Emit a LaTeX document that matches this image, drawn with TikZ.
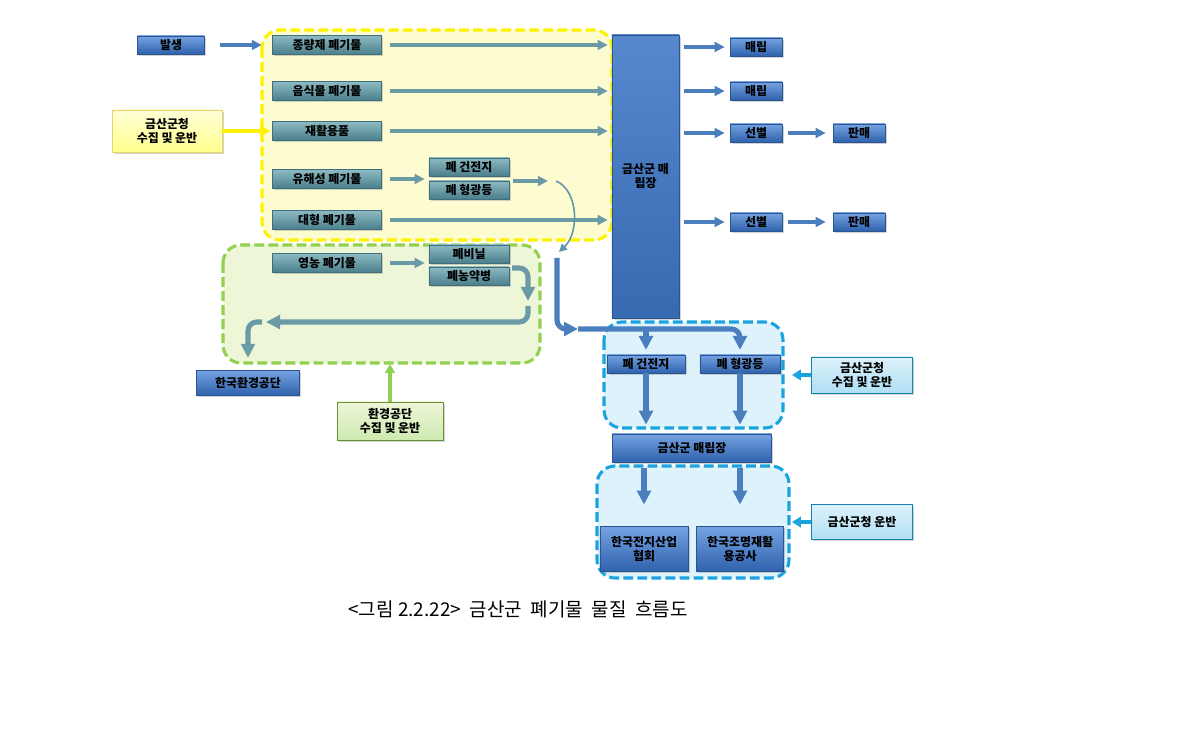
\documentclass[tikz,border=0pt]{standalone}
\usepackage{fontspec}
\setmainfont{Noto Sans CJK KR}
\usepackage{xcolor}
\usepackage{tikz}
\usetikzlibrary{arrows.meta,shadows}

\definecolor{blueMid}{HTML}{3F78C8}
\definecolor{blueTop}{HTML}{75A3E2}
\definecolor{blueBot}{HTML}{2F62AD}
\definecolor{blueEdge}{HTML}{2A5590}
\definecolor{tealTop}{HTML}{8DBAC2}
\definecolor{tealBot}{HTML}{4A7F8C}
\definecolor{tealEdge}{HTML}{3E6F7B}
\definecolor{yelLine}{HTML}{FFF200}
\definecolor{yelFill}{HTML}{FDFCD0}
\definecolor{grnLine}{HTML}{92D050}
\definecolor{grnFill}{HTML}{EEF6D8}
\definecolor{skyLine}{HTML}{1AA3DE}
\definecolor{skyFill}{HTML}{DDF2FB}
\definecolor{arrTeal}{HTML}{6A9AA6}
\definecolor{arrBlue}{HTML}{4A7EBD}

\tikzset{
  box/.style={inner sep=1pt, font=\fontsize{8.5}{10}\selectfont\bfseries, align=center,
    drop shadow={shadow xshift=1.2pt, shadow yshift=-1.2pt, opacity=0.35}},
  bluebox/.style={box, draw=blueEdge, top color=blueTop, bottom color=blueBot,
    minimum width=1.3cm, minimum height=0.45cm},
  tealbox/.style={box, draw=tealEdge, top color=tealTop, bottom color=tealBot,
    minimum width=2.725cm, minimum height=0.475cm},
  tealsmall/.style={tealbox, minimum width=2cm, minimum height=0.45cm},
  yellowbox/.style={box, draw=yellow!50!brown!70, top color=yellow!15, bottom color=yellow!45,
    minimum width=2.75cm, minimum height=1.05cm},
  greenbox/.style={box, draw=grnLine!70!black, top color=grnFill, bottom color=grnLine!45,
    minimum width=2.65cm, minimum height=0.95cm},
  skybox/.style={box, draw=skyLine!80!black, top color=skyFill, bottom color=skyLine!35,
    minimum width=2.525cm, minimum height=0.9cm},
  zone/.style={line width=2.2pt, dash pattern=on 7pt off 3pt, rounded corners=0.45cm},
  yzone/.style={zone, draw=yelLine, fill=yelFill},
  gzone/.style={zone, draw=grnLine, fill=grnFill},
  szone/.style={zone, draw=skyLine, fill=skyFill},
  barrow/.style={draw=arrBlue, line width=2.2pt, -{Triangle[length=0.25cm, width=0.24cm]}},
  tarrow/.style={draw=arrTeal, line width=2.2pt, -{Triangle[length=0.25cm, width=0.24cm]}},
  tbig/.style={draw=arrTeal, line width=3.6pt, rounded corners=0.22cm},
  bbig/.style={draw=arrBlue, line width=3.6pt, rounded corners=0.22cm},
  bigtip/.style={-{Triangle[length=0.35cm, width=0.34cm]}},
  rarrow/.style={barrow, shorten <=0.125cm, shorten >=0.125cm},
  skyarrow/.style={draw=skyLine, line width=2.4pt, -{Triangle[length=0.22cm, width=0.26cm]}},
}

\begin{document}
\begin{tikzpicture}[x=0.025cm, y=-0.025cm]
\useasboundingbox (0,0) rectangle (1190,753);

% zones
\draw[gzone] (223,245) rectangle (540,363);
\draw[yzone] (262,30) rectangle (612,240);
\draw[szone] (604,322) rectangle (783,428);
\draw[szone] (597,466) rectangle (789,578);

% left column
\node[bluebox, minimum width=1.675cm] (bal) at (171,45) {발생};
\node[yellowbox] (gov1) at (167,131) {금산군청\\수집 및 운반};
\node[tealbox] (jong) at (327,45) {종량제 폐기물};
\node[tealbox] (food) at (327,91) {음식물 폐기물};
\node[tealbox] (recy) at (327,131) {재활용품};
\node[tealbox] (haz) at (327,179) {유해성 폐기물};
\node[tealbox] (bulky) at (327,220) {대형 폐기물};
\node[tealbox] (agri) at (327,263) {영농 폐기물};
\node[tealsmall] (bat) at (469,167) {폐 건전지};
\node[tealsmall] (lamp) at (469,190) {폐 형광등};
\node[tealsmall] (vinyl) at (469,254) {폐비닐};
\node[tealsmall] (bottle) at (469,276) {폐농약병};
\node[bluebox, minimum width=2.575cm, minimum height=0.625cm] (kenv) at (248,383) {한국환경공단};
\node[greenbox] (envco) at (390,421) {환경공단\\수집 및 운반};

% landfill and right column
\node[bluebox, top color=blueMid!88!white, bottom color=blueMid!88!black,
  minimum width=1.675cm, minimum height=7.075cm] (land) at (645.5,176.5) {금산군 매\\립장};
\node[bluebox] (m1) at (756,47) {매립};
\node[bluebox] (m2) at (756,91) {매립};
\node[bluebox] (s1) at (756,133) {선별};
\node[bluebox] (p1) at (859,133) {판매};
\node[bluebox] (s2) at (756,222) {선별};
\node[bluebox] (p2) at (859,222) {판매};

% lower right
\node[bluebox, minimum width=1.95cm] (bat2) at (646,364) {폐 건전지};
\node[bluebox, minimum width=2.0cm] (lamp2) at (740,364) {폐 형광등};
\node[bluebox, minimum width=3.975cm, minimum height=0.7cm] (land2) at (692,448) {금산군 매립장};
\node[bluebox, minimum width=2.2cm, minimum height=1.125cm] (kbia) at (644,549) {한국전지산업\\협회};
\node[bluebox, minimum width=2.175cm, minimum height=1.125cm] (klrc) at (740,549) {한국조명재활\\용공사};
\node[skybox] (gov2) at (862,375) {금산군청\\수집 및 운반};
\node[skybox, minimum height=0.875cm] (gov3) at (862,522) {금산군청 운반};

% free ends
\coordinate (hazout) at (556,181);
\coordinate (curveend) at (559,252);
\coordinate (drop) at (557,258);
\coordinate (split) at (578,329);
\coordinate (g1) at (512,268);
\coordinate (g2) at (528,301);
\coordinate (g3) at (528,306);
\coordinate (g4) at (266,322);
\coordinate (g5) at (262,322);
\coordinate (gbot) at (390,364);
\coordinate (sky1) at (792,375);
\coordinate (sky2) at (792,522);

% arrows, top part
\draw[barrow, shorten <=0.39cm, shorten >=0.26cm] (bal) -- (jong);
\draw[draw=yelLine, line width=2.6pt, -{Triangle[length=0.25cm, width=0.26cm]}, shorten >=0.05cm] (gov1.east) -- (gov1.east -| jong.west);
\foreach \n in {jong, food, recy, bulky}
  \draw[tarrow, shorten <=0.21cm, shorten >=0.1cm] (\n.east) -- (\n.east -| land.west);
\draw[tarrow, shorten <=0.21cm, shorten >=0.1cm] (haz.east) -- (haz.east -| bat.west);
\draw[tarrow, shorten <=0.1cm, shorten >=0.2cm] (hazout -| lamp.east) -- (hazout);
\draw[draw=arrTeal!70!arrBlue, line width=1.1pt, -{Triangle[length=0.2cm, width=0.2cm]}]
  (hazout) .. controls (578,190) and (580,232) .. (curveend);
\draw[bbig, bigtip] (drop) |- (split);
\draw[bbig, bigtip, shorten >=0.12cm] (split) -| (lamp2.north);
\draw[bbig, bigtip, shorten >=0.12cm] (split -| bat2) -- (bat2.north);

% right of landfill
\foreach \n in {m1, m2, s1, s2}
  \draw[rarrow] (land.east |- \n) -- (\n.west);
\draw[barrow, shorten <=0.15cm, shorten >=0.175cm] (s1) -- (p1);
\draw[barrow, shorten <=0.15cm, shorten >=0.175cm] (s2) -- (p2);

% agricultural waste
\draw[tarrow, shorten <=0.21cm, shorten >=0.1cm] (agri.east) -- (agri.east -| vinyl.west);
\draw[tbig, bigtip] (g1) -| (g2);
\draw[tbig, bigtip] (g3) |- (g4);
\draw[tbig, bigtip, shorten >=0.31cm] (g5) -| (kenv.north);
\draw[draw=grnLine, line width=2.2pt, -{Triangle[length=0.22cm, width=0.24cm]}] (envco.north) -- (gbot);

% lower flows
\draw[bbig, bigtip, shorten >=0.225cm] (bat2.south) -- (bat2.south |- land2.north);
\draw[bbig, bigtip, shorten >=0.225cm] (lamp2.south) -- (lamp2.south |- land2.north);
\draw[bbig, bigtip, shorten <=0.15cm, shorten >=0.54cm] (land2.south -| kbia) -- (kbia.north);
\draw[bbig, bigtip, shorten <=0.15cm, shorten >=0.54cm] (land2.south -| klrc) -- (klrc.north);
\draw[skyarrow] (gov2.west) -- (sky1);
\draw[skyarrow] (gov3.west) -- (sky2);

% caption
\node[font=\fontsize{13.5}{16}\selectfont] (cap) at (518,609) {<그림 2.2.22>\ \ 금산군\ \ 폐기물\ \ 물질\ \ 흐름도};
\end{tikzpicture}
\end{document}
